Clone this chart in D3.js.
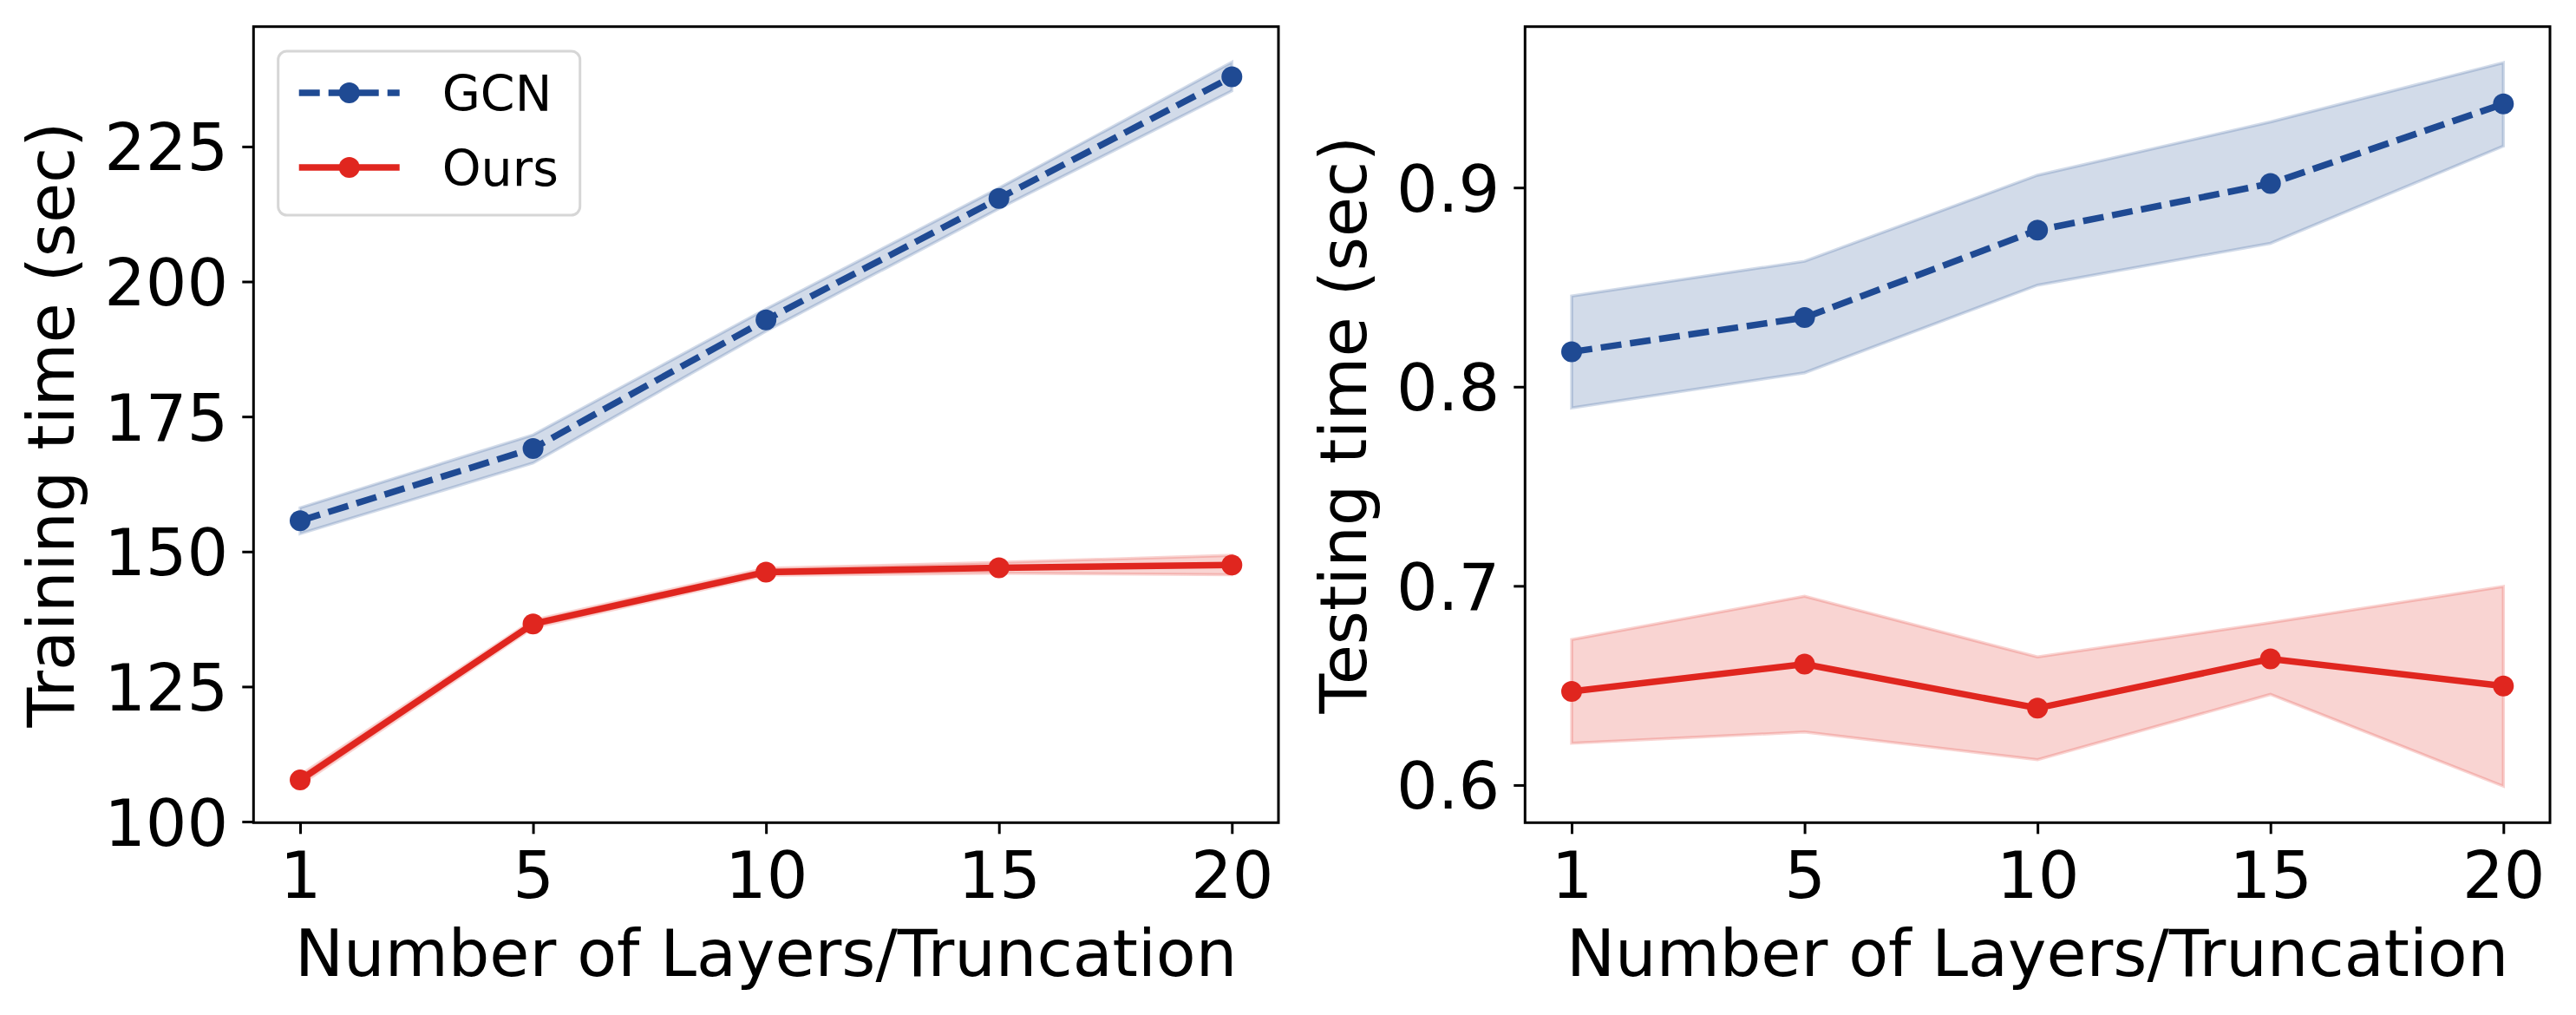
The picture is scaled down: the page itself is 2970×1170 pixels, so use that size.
<!DOCTYPE html>
<html>
<head>
<meta charset="utf-8">
<script src="https://cdn.jsdelivr.net/npm/d3@7"></script>
<style>
  body { margin: 0; background: #fff; }
  svg { display: block; font-family: "DejaVu Sans", sans-serif; }
</style>
</head>
<body>
<div id="chart"></div>
<script>
// x categories (evenly spaced, like matplotlib with string ticks)
var layers = ["1", "5", "10", "15", "20"];

// training time (sec)
var trainGcn   = [155.7, 169.1, 192.9, 215.4, 237.9];
var trainGcnLo = [153.3, 166.4, 190.8, 213.5, 235.3];
var trainGcnHi = [158.1, 171.6, 194.9, 217.3, 240.6];
var trainOurs   = [107.7, 136.6, 146.2, 147.0, 147.5];
var trainOursLo = [106.8, 135.9, 145.6, 146.0, 145.7];
var trainOursHi = [108.6, 137.3, 146.9, 148.0, 149.3];

// testing time (sec)
var testGcn   = [0.8175, 0.8347, 0.8786, 0.9020, 0.9420];
var testGcnLo = [0.7893, 0.8070, 0.8510, 0.8720, 0.9208];
var testGcnHi = [0.8455, 0.8630, 0.9062, 0.9330, 0.9627];
var testOurs   = [0.6470, 0.6607, 0.6386, 0.6633, 0.6497];
var testOursLo = [0.6210, 0.6266, 0.6127, 0.6455, 0.5994];
var testOursHi = [0.6730, 0.6948, 0.6643, 0.6815, 0.6997];

var trainTicks = [100, 125, 150, 175, 200, 225];
var testTicks = [0.6, 0.7, 0.8, 0.9];
var seriesNames = ["GCN", "Ours"];

var blue = "#1f4a93", red = "#e0261f";

var fullwidth = 2970, fullheight = 1170;

var svg = d3.select("#chart")
            .append("svg")
            .attr("width", fullwidth)
            .attr("height", fullheight);

svg.append("rect").attr("width", fullwidth).attr("height", fullheight).attr("fill", "#fff");

function panel(opts) {
    var w = opts.right - opts.left, h = opts.bottom - opts.top;

    var g = svg.append("g")
               .attr("transform", "translate(" + opts.left + "," + opts.top + ")");

    var xScale = d3.scalePoint().domain(layers).range([0, w]).padding(0.2);
    var yScale = d3.scaleLinear().domain(opts.ydomain).range([h, 0]);

    var band = d3.area()
        .x(function(d, i) { return xScale(layers[i]); })
        .y0(function(d) { return yScale(d[0]); })
        .y1(function(d) { return yScale(d[1]); });

    var line = d3.line()
        .x(function(d, i) { return xScale(layers[i]); })
        .y(function(d) { return yScale(d); });

    opts.series.forEach(function(s) {
        var pairs = s.lo.map(function(v, i) { return [v, s.hi[i]]; });
        g.append("path")
         .attr("d", band(pairs))
         .attr("fill", s.color)
         .attr("fill-opacity", 0.2)
         .attr("stroke", s.color)
         .attr("stroke-opacity", 0.2)
         .attr("stroke-width", 3.5);
    });

    opts.series.forEach(function(s) {
        g.append("path")
         .attr("d", line(s.mean))
         .attr("fill", "none")
         .attr("stroke", s.color)
         .attr("stroke-width", 7.5)
         .attr("stroke-dasharray", s.dash ? "24,10" : null);

        g.selectAll(null)
         .data(s.mean)
         .enter()
         .append("circle")
         .attr("cx", function(d, i) { return xScale(layers[i]); })
         .attr("cy", function(d) { return yScale(d); })
         .attr("r", 12)
         .attr("fill", s.color);
    });

    // axes
    var xAxis = d3.axisBottom(xScale).tickSize(13).tickPadding(20);
    var yAxis = d3.axisLeft(yScale).tickValues(opts.ticks).tickSize(13).tickPadding(16)
                  .tickFormat(opts.fmt);

    var gx = g.append("g")
              .attr("transform", "translate(0," + h + ")")
              .call(xAxis);
    var gy = g.append("g").call(yAxis);

    [gx, gy].forEach(function(a) {
        a.attr("font-family", "DejaVu Sans").attr("font-size", 75);
        a.select(".domain").remove();
        a.selectAll(".tick line").attr("stroke", "#000").attr("stroke-width", 3);
        a.selectAll(".tick text").attr("fill", "#000");
    });
    gy.selectAll(".tick text").attr("dy", "0.36em");

    // frame
    g.append("rect")
     .attr("width", w).attr("height", h)
     .attr("fill", "none").attr("stroke", "#000").attr("stroke-width", 3);

    // axis labels
    g.append("text")
     .attr("x", w / 2).attr("y", 1125 - opts.top)
     .attr("text-anchor", "middle")
     .attr("font-size", 75)
     .text("Number of Layers/Truncation");

    g.append("text")
     .attr("transform", "translate(" + (opts.ylabelX - opts.left) + "," + (h / 2) + ") rotate(-90)")
     .attr("text-anchor", "middle")
     .attr("font-size", 75)
     .text(opts.ylabel);

    return g;
}

var left = panel({
    left: 292.3, right: 1474, top: 30.7, bottom: 948.3,
    ydomain: [99.8, 247.2], ticks: trainTicks, fmt: d3.format("d"),
    ylabel: "Training time (sec)", ylabelX: 85,
    series: [
        {mean: trainGcn, lo: trainGcnLo, hi: trainGcnHi, color: blue, dash: true},
        {mean: trainOurs, lo: trainOursLo, hi: trainOursHi, color: red, dash: false}
    ]
});

panel({
    left: 1758.3, right: 2940, top: 30.7, bottom: 948.3,
    ydomain: [0.5811, 0.9808], ticks: testTicks, fmt: d3.format(".1f"),
    ylabel: "Testing time (sec)", ylabelX: 1575,
    series: [
        {mean: testGcn, lo: testGcnLo, hi: testGcnHi, color: blue, dash: true},
        {mean: testOurs, lo: testOursLo, hi: testOursHi, color: red, dash: false}
    ]
});

// legend (upper left of the training panel)
var legend = left.append("g").attr("transform", "translate(" + (320.7 - 292.3) + "," + (59 - 30.7) + ")");

legend.append("rect")
      .attr("width", 348).attr("height", 189)
      .attr("rx", 10).attr("ry", 10)
      .attr("fill", "#fff").attr("fill-opacity", 0.8)
      .attr("stroke", "#d6d6d6").attr("stroke-width", 3);

var legendItems = legend.selectAll(".item")
      .data(seriesNames)
      .enter()
      .append("g")
      .attr("class", "item")
      .attr("transform", function(d, i) { return "translate(0," + (48 + i * 86) + ")"; });

legendItems.append("line")
      .attr("x1", 24).attr("x2", 140)
      .attr("stroke", function(d, i) { return i === 0 ? blue : red; })
      .attr("stroke-width", 7.5)
      .attr("stroke-dasharray", function(d, i) { return i === 0 ? "24,10" : null; });

legendItems.append("circle")
      .attr("cx", 82).attr("r", 12)
      .attr("fill", function(d, i) { return i === 0 ? blue : red; });

legendItems.append("text")
      .attr("x", 189).attr("dy", "0.36em")
      .attr("font-size", 57)
      .text(function(d) { return d; });
</script>
</body>
</html>
